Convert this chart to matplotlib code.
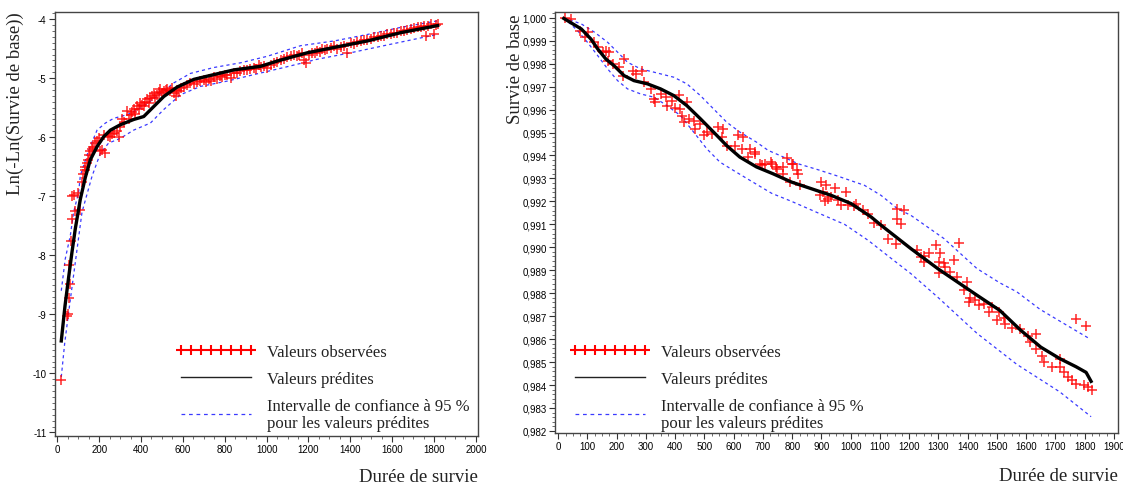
import numpy as np
import matplotlib
matplotlib.use('Agg')
import matplotlib.pyplot as plt
from matplotlib.lines import Line2D
from matplotlib.ticker import MultipleLocator, FuncFormatter

# ---- panneau gauche : Ln(-Ln(Survie de base)) ----
obs_gauche = np.array([
    (19, -10.12), (46, -9.03), (50, -9.0), (54, -8.72), (62, -8.48), (57, -8.17), (67, -7.75),
    (70, -7.38), (70, -7.0), (86, -7.25), (81, -6.98), (97, -6.94), (110, -7.23), (118, -6.76),
    (121, -6.62), (130, -6.55), (134, -6.5), (140, -6.44), (145, -6.39), (150, -6.3), (158, -6.24),
    (165, -6.2), (171, -6.16), (180, -6.1), (190, -6.07), (200, -6.02), (206, -6.24), (215, -6.22),
    (230, -6.27), (222, -5.96), (240, -5.98), (254, -5.99), (262, -5.95), (270, -5.93), (286, -5.9),
    (294, -5.99), (300, -5.82), (309, -5.7), (318, -5.75), (333, -5.56), (341, -5.7), (350, -5.62),
    (358, -5.58), (365, -5.53), (372, -5.6), (381, -5.48), (389, -5.52), (397, -5.42), (405, -5.45),
    (413, -5.48), (421, -5.4), (429, -5.36), (437, -5.42), (445, -5.34), (453, -5.3), (461, -5.25),
    (469, -5.33), (477, -5.28), (485, -5.24), (493, -5.19), (501, -5.25), (509, -5.22), (517, -5.2),
    (525, -5.18), (537, -5.21), (549, -5.16), (557, -5.26), (565, -5.31), (573, -5.2), (581, -5.22),
    (593, -5.16), (605, -5.15), (620, -5.12), (636, -5.09), (652, -5.1), (668, -5.07), (684, -5.05),
    (700, -5.03), (712, -5.06), (724, -5.01), (736, -5.04), (748, -4.98), (764, -5.02), (776, -4.97),
    (788, -4.98), (800, -4.95), (812, -4.94), (828, -4.99), (844, -4.92), (860, -4.92), (875, -4.88),
    (891, -4.86), (907, -4.87), (923, -4.84), (939, -4.82), (951, -4.85), (963, -4.78), (975, -4.81),
    (987, -4.8), (1003, -4.82), (1019, -4.77), (1035, -4.75), (1051, -4.72), (1067, -4.69),
    (1083, -4.68), (1099, -4.65), (1115, -4.63), (1131, -4.61), (1143, -4.62), (1155, -4.6),
    (1171, -4.58), (1179, -4.69), (1187, -4.74), (1203, -4.6), (1219, -4.57), (1230, -4.58),
    (1242, -4.54), (1254, -4.55), (1266, -4.51), (1278, -4.53), (1290, -4.51), (1306, -4.49),
    (1323, -4.45), (1338, -4.5), (1354, -4.47), (1370, -4.45), (1386, -4.57), (1402, -4.41),
    (1418, -4.42), (1434, -4.39), (1450, -4.37), (1466, -4.35), (1482, -4.36), (1498, -4.33),
    (1514, -4.31), (1530, -4.3), (1546, -4.29), (1561, -4.28), (1577, -4.26), (1593, -4.26),
    (1609, -4.24), (1625, -4.23), (1641, -4.21), (1657, -4.2), (1673, -4.19), (1689, -4.17),
    (1705, -4.15), (1721, -4.14), (1737, -4.13), (1753, -4.11), (1761, -4.28), (1769, -4.12),
    (1785, -4.09), (1801, -4.26), (1809, -4.1), (1817, -4.09)])

pred_gauche = np.array([
    (19, -9.45), (37, -8.85), (55, -8.35), (70, -7.95), (86, -7.55), (110, -7.05), (134, -6.68),
    (158, -6.38), (190, -6.16), (222, -5.99), (254, -5.88), (301, -5.79), (365, -5.70), (413, -5.65),
    (461, -5.48), (509, -5.31), (573, -5.15), (653, -5.02), (748, -4.94), (844, -4.86), (971, -4.80),
    (1051, -4.71), (1195, -4.57), (1323, -4.48), (1482, -4.37), (1641, -4.23), (1817, -4.11)])

ic_haut_gauche = np.array([
    (19, -8.6), (38, -8.06), (62, -7.67), (78, -7.27), (102, -6.93), (110, -6.65), (150, -6.22),
    (190, -5.88), (230, -5.76), (270, -5.68), (333, -5.62), (397, -5.51), (477, -5.31), (557, -5.08),
    (636, -4.92), (748, -4.82), (876, -4.74), (1003, -4.63), (1163, -4.45), (1323, -4.37),
    (1482, -4.26), (1641, -4.14), (1817, -4.03)])

ic_bas_gauche = np.array([
    (19, -10.06), (35, -9.5), (54, -8.97), (86, -8.12), (118, -7.27), (166, -6.66), (206, -6.27),
    (245, -6.10), (301, -6.02), (365, -5.88), (445, -5.76), (509, -5.53), (589, -5.28), (684, -5.14),
    (812, -5.05), (939, -4.94), (1083, -4.82), (1242, -4.68), (1402, -4.57), (1561, -4.45),
    (1721, -4.33), (1817, -4.26)])

# ---- panneau droit : Survie de base ----
obs_droite = np.array([
    (22, 1.0000), (44, 0.99994), (73, 0.99943), (90, 0.99915), (101, 0.99937), (124, 0.99893),
    (135, 0.99871), (152, 0.99850), (163, 0.99857), (175, 0.99850), (169, 0.99813), (186, 0.99799),
    (208, 0.99784), (225, 0.99820), (220, 0.99748), (254, 0.99770), (265, 0.99755), (288, 0.99770),
    (293, 0.99719), (316, 0.99690), (327, 0.99647), (330, 0.99632), (350, 0.99668), (367, 0.99654),
    (372, 0.99617), (389, 0.99639), (401, 0.99608), (412, 0.99663), (418, 0.99603), (423, 0.99574),
    (429, 0.99545), (440, 0.99632), (446, 0.99559), (463, 0.99552), (469, 0.99516), (486, 0.99538),
    (497, 0.99487), (508, 0.99502), (525, 0.99494), (548, 0.99523), (565, 0.99516), (559, 0.99480),
    (576, 0.99443), (604, 0.99443), (616, 0.99487), (633, 0.99480), (627, 0.99429), (650, 0.99393),
    (655, 0.99429), (672, 0.99414), (674, 0.99407), (689, 0.99364), (696, 0.99357), (707, 0.99364),
    (729, 0.99371), (730, 0.99364), (746, 0.99350), (747, 0.99342), (769, 0.99350), (770, 0.99320),
    (781, 0.99391), (798, 0.99364), (804, 0.99364), (815, 0.99335), (821, 0.99320), (792, 0.99284),
    (826, 0.99270), (900, 0.99284), (917, 0.99270), (945, 0.99260), (985, 0.99241), (906, 0.99241),
    (894, 0.99226), (911, 0.99200), (922, 0.99212), (934, 0.99219), (957, 0.99205), (968, 0.99183),
    (991, 0.99183), (1013, 0.99180), (1019, 0.99190), (1041, 0.99161), (1058, 0.99147),
    (1081, 0.99106), (1104, 0.99096), (1126, 0.99038), (1154, 0.99016), (1160, 0.99168),
    (1183, 0.99161), (1160, 0.99125), (1171, 0.99103), (1228, 0.98987), (1239, 0.98958),
    (1251, 0.98937), (1249, 0.98961), (1268, 0.98973), (1290, 0.99012), (1307, 0.98973),
    (1302, 0.98937), (1318, 0.98932), (1370, 0.99020), (1353, 0.98943), (1324, 0.98915),
    (1341, 0.98893), (1302, 0.98886), (1364, 0.98871), (1398, 0.98850), (1387, 0.98813),
    (1404, 0.98763), (1409, 0.98777), (1426, 0.98770), (1438, 0.98748), (1455, 0.98755),
    (1472, 0.98719), (1483, 0.98741), (1506, 0.98719), (1500, 0.98683), (1523, 0.98690),
    (1528, 0.98668), (1551, 0.98647), (1578, 0.98644), (1605, 0.98615), (1633, 0.98622),
    (1612, 0.98586), (1633, 0.98557), (1653, 0.98528), (1660, 0.98499), (1688, 0.98478),
    (1715, 0.98478), (1729, 0.98456), (1742, 0.98435), (1756, 0.98420), (1770, 0.98406),
    (1715, 0.98514), (1770, 0.98687), (1804, 0.98658), (1797, 0.98399), (1811, 0.98391),
    (1825, 0.98377)])

pred_droite = np.array([
    (19, 0.99997), (79, 0.99951), (112, 0.99907), (135, 0.99864), (163, 0.99820), (191, 0.99791),
    (225, 0.99748), (259, 0.99726), (305, 0.99712), (350, 0.99690), (395, 0.99661), (440, 0.99617),
    (486, 0.99560), (531, 0.99502), (576, 0.99443), (621, 0.99393), (678, 0.99350), (735, 0.99320),
    (798, 0.99284), (866, 0.99255), (934, 0.99226), (1002, 0.99190), (1070, 0.99132),
    (1104, 0.99096), (1206, 0.98994), (1300, 0.98905), (1432, 0.98791), (1510, 0.98725),
    (1580, 0.98640), (1650, 0.98565), (1715, 0.98515), (1770, 0.98480), (1805, 0.98455),
    (1822, 0.98416)])

ic_haut_droite = np.array([
    (19, 1.0), (79, 0.99973), (124, 0.99937), (169, 0.99893), (203, 0.99850), (237, 0.99806),
    (282, 0.99777), (327, 0.99763), (395, 0.99741), (440, 0.99712), (486, 0.99661), (531, 0.99603),
    (576, 0.99545), (621, 0.99502), (678, 0.99458), (718, 0.99422), (758, 0.99400), (820, 0.99364),
    (888, 0.99338), (956, 0.99310), (1047, 0.99270), (1104, 0.99226), (1160, 0.99168),
    (1206, 0.99139), (1319, 0.99038), (1432, 0.98907), (1510, 0.98845), (1568, 0.98806),
    (1647, 0.98730), (1742, 0.98658), (1819, 0.98600)])

ic_bas_droite = np.array([
    (19, 1.0), (66, 0.99944), (100, 0.99893), (135, 0.99835), (169, 0.99777), (203, 0.99726),
    (237, 0.99690), (282, 0.99668), (327, 0.99654), (372, 0.99617), (418, 0.99574), (463, 0.99502),
    (508, 0.99429), (553, 0.99371), (599, 0.99335), (655, 0.99292), (730, 0.99235), (798, 0.99200),
    (888, 0.99150), (979, 0.99100), (1060, 0.99030), (1130, 0.98960), (1206, 0.98885),
    (1300, 0.98780), (1432, 0.98625), (1568, 0.98490), (1715, 0.98370), (1822, 0.98262)])

leg_labels = ['Valeurs observées', 'Valeurs prédites',
              'Intervalle de confiance à 95 %\npour les valeurs prédites']

serif = ['Liberation Serif', 'DejaVu Serif']
tickfont = ['Liberation Sans Narrow', 'Liberation Sans', 'DejaVu Sans']

fig = plt.figure(figsize=(11.23, 4.89), dpi=100)
ax1 = fig.add_axes([55 / 1123, 1 - 437 / 489, 423 / 1123, 424 / 489])
ax2 = fig.add_axes([555 / 1123, 1 - 434 / 489, 563 / 1123, 421 / 489])

bleu = '#3a3aff'


def dessiner(ax, obs, pred, haut, bas):
    ax.plot(haut[:, 0], haut[:, 1], color=bleu, lw=0.9, ls=(0, (2.5, 2.5)), zorder=2)
    ax.plot(bas[:, 0], bas[:, 1], color=bleu, lw=0.9, ls=(0, (2.5, 2.5)), zorder=2)
    ax.plot(obs[:, 0], obs[:, 1], ls='none', marker='+', ms=7, mew=1.1, color='red', alpha=0.85, zorder=3)
    ax.plot(pred[:, 0], pred[:, 1], color='black', lw=2.4, zorder=4)
    for s in ax.spines.values():
        s.set_color('#444444')
        s.set_linewidth(1.0)
    ax.tick_params(which='major', length=4, width=0.8, labelsize=7, pad=2, colors='#333333')
    ax.tick_params(which='minor', length=2, width=0.6, colors='#555555')


dessiner(ax1, obs_gauche, pred_gauche, ic_haut_gauche, ic_bas_gauche)
dessiner(ax2, obs_droite, pred_droite, ic_haut_droite, ic_bas_droite)

ax1.set_xlim(-11, 2010)
ax1.set_ylim(-11.06, -3.88)
ax1.xaxis.set_major_locator(MultipleLocator(200))
ax1.xaxis.set_minor_locator(MultipleLocator(50))
ax1.yaxis.set_major_locator(MultipleLocator(1))
ax1.yaxis.set_minor_locator(MultipleLocator(0.1))
ax1.yaxis.set_major_formatter(FuncFormatter(lambda v, p: '%d' % round(v)))

ax2.set_xlim(-11, 1914)
ax2.set_ylim(0.98191, 1.00025)
ax2.xaxis.set_major_locator(MultipleLocator(100))
ax2.xaxis.set_minor_locator(MultipleLocator(25))
ax2.yaxis.set_major_locator(MultipleLocator(0.001))
ax2.yaxis.set_minor_locator(MultipleLocator(0.0002))
ax2.yaxis.set_major_formatter(FuncFormatter(lambda v, p: ('%.3f' % v).replace('.', ',')))

for ax in (ax1, ax2):
    for lab in ax.get_xticklabels() + ax.get_yticklabels():
        lab.set_family(tickfont)
        lab.set_color('black')
# le dernier libellé touche le bord droit : on le décale un peu
ax2.get_xticklabels()[-1].set_horizontalalignment('right')

# titres des axes
fig.text(15 / 1123, 1 - 12 / 489, 'Ln(-Ln(Survie de base))', rotation=90, va='top', ha='center',
         family=serif, fontsize=13.5, color='#222222')
fig.text(515 / 1123, 1 - 14 / 489, 'Survie de base', rotation=90, va='top', ha='center',
         family=serif, fontsize=13.5, color='#222222')
fig.text(478 / 1123, 1 - 478 / 489, 'Durée de survie', ha='right', va='center',
         family=serif, fontsize=13.5, color='#222222')
fig.text(1118 / 1123, 1 - 477 / 489, 'Durée de survie', ha='right', va='center',
         family=serif, fontsize=13.5, color='#222222')

# légendes
poignees = [Line2D([], [], ls='none', marker='+', ms=7, mew=1.5, color='red'),
            Line2D([], [], color='#222222', lw=1.0),
            Line2D([], [], color=bleu, lw=0.9, ls=(0, (3, 3)))]
for ax, x0 in ((ax1, 176), (ax2, 570)):
    leg = ax.legend(poignees, leg_labels, loc='upper left', bbox_to_anchor=(x0 / 1123, 1 - 345 / 489),
                    bbox_transform=fig.transFigure, frameon=False, numpoints=8, handlelength=4.8,
                    handletextpad=0.65, labelspacing=0.66, borderpad=0, borderaxespad=0,
                    prop={'family': serif, 'size': 12})
    for t in leg.get_texts():
        t.set_linespacing(1.05)
        t.set_color('#222222')

fig.savefig('out.png', dpi=100)
